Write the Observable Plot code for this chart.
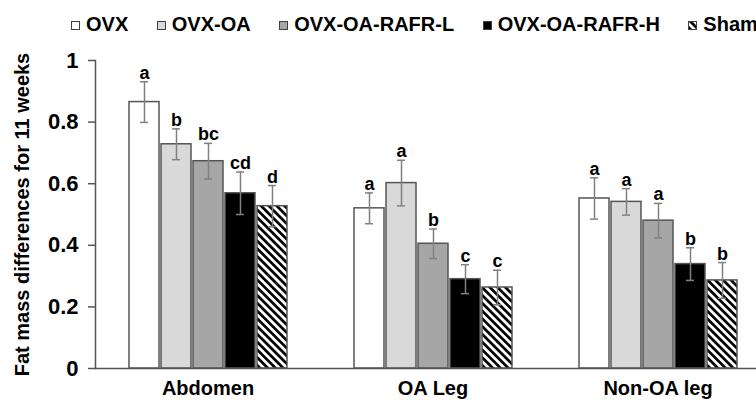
<!DOCTYPE html>
<html><head><meta charset="utf-8">
<script src="https://cdn.jsdelivr.net/npm/d3@7"></script>
<script src="https://cdn.jsdelivr.net/npm/@observablehq/plot@0.6"></script>
<style>
body{margin:0;background:#fff;}
#wrap{width:756px;height:400px;overflow:hidden;position:relative;font-family:"Liberation Sans",Arial,sans-serif;font-weight:bold;background:#fff;}
#legend{height:40px;box-sizing:border-box;padding-top:14px;padding-left:71px;line-height:20px;font-size:20px;white-space:nowrap;display:flex;gap:28.5px;}
#legend .item{display:inline-block;}
#legend .sw{display:inline-block;width:9px;height:9px;box-sizing:border-box;border:1px solid #404040;margin-right:6px;vertical-align:1px;}
#legend svg.sw{border:none;}
#chart{width:775px;}
#chart svg{display:block;max-width:none !important;width:775px !important;height:360px !important;}
#wrap g[aria-label="y-axis label"], #wrap g[aria-label="y-axis label"] text{font-size:20px;}
</style>
</head><body>
<div id="wrap"><div id="legend"></div><div id="chart"></div></div>
<script>
const groups = ["Abdomen", "OA Leg", "Non-OA leg"];
const series = ["OVX", "OVX-OA", "OVX-OA-RAFR-L", "OVX-OA-RAFR-H", "Sham"];
const fills = ["#ffffff", "#d9d9d9", "#a6a6a6", "#000000", "url(#stripes)"];

const abdomenMean = [0.865, 0.728, 0.673, 0.569, 0.527];
const abdomenErr = [0.066, 0.050, 0.058, 0.069, 0.067];
const abdomenLetters = ["a", "b", "bc", "cd", "d"];

const oaLegMean = [0.520, 0.602, 0.405, 0.290, 0.263];
const oaLegErr = [0.050, 0.074, 0.048, 0.047, 0.056];
const oaLegLetters = ["a", "a", "b", "c", "c"];

const nonOaLegMean = [0.552, 0.541, 0.480, 0.339, 0.286];
const nonOaLegErr = [0.067, 0.043, 0.056, 0.053, 0.058];
const nonOaLegLetters = ["a", "a", "a", "b", "b"];

const yTicks = [0, 0.2, 0.4, 0.6, 0.8, 1];
const yTickLabels = ["0", "0.2", "0.4", "0.6", "0.8", "1"];
const yTitle = "Fat mass differences for 11 weeks";

const table = [];
[[abdomenMean, abdomenErr, abdomenLetters],
 [oaLegMean, oaLegErr, oaLegLetters],
 [nonOaLegMean, nonOaLegErr, nonOaLegLetters]].forEach(([m, e, l], gi) =>
  series.forEach((s, si) => table.push({group: groups[gi], series: s, mean: m[si], err: e[si], letter: l[si]})));

function patternDefs(id) {
  const d = d3.create("svg:defs");
  const p = d.append("pattern").attr("id", id).attr("patternUnits", "userSpaceOnUse")
    .attr("width", 5.5).attr("height", 5.5).attr("patternTransform", "rotate(-45)");
  p.append("rect").attr("width", 5.5).attr("height", 5.5).attr("fill", "#fff");
  p.append("rect").attr("width", 2.7).attr("height", 5.5).attr("fill", "#000");
  return d.node();
}

// legend
const legend = d3.select("#legend");
series.forEach((s, i) => {
  const it = legend.append("span").attr("class", "item");
  if (fills[i].startsWith("url")) {
    const sv = it.append("svg").attr("class", "sw").attr("width", 9).attr("height", 9);
    sv.node().appendChild(patternDefs("stripesLegend"));
    sv.append("rect").attr("x", 0.5).attr("y", 0.5).attr("width", 8).attr("height", 8)
      .attr("fill", "url(#stripesLegend)").attr("stroke", "#404040");
  } else {
    it.append("span").attr("class", "sw").style("background", fills[i]);
  }
  it.append("span").text(s);
});

const ebColor = "#808080";
const chart = Plot.plot({
  width: 775, height: 360,
  marginLeft: 95, marginRight: 5, marginTop: 20, marginBottom: 32,
  style: {fontFamily: "Liberation Sans, Arial, sans-serif", fontWeight: "bold", color: "#000", background: "#fff", overflow: "visible", maxWidth: "none"},
  fx: {domain: groups, padding: 0, label: null},
  x: {domain: series, paddingInner: 0.07, paddingOuter: 1.02, axis: null},
  y: {domain: [0, 1]},
  color: {domain: series, range: fills},
  marks: [
    () => patternDefs("stripes"),
    Plot.barY(table, {fx: "group", x: "series", y: "mean", fill: "series", stroke: "#555", strokeWidth: 1.5}),
    Plot.ruleY([0], {stroke: "#555", strokeWidth: 1.5}),
    Plot.frame({anchor: "left", facet: "super", stroke: "#555", strokeWidth: 1.5}),
    Plot.ruleX(table, {fx: "group", x: "series", y1: d => d.mean - d.err, y2: d => d.mean + d.err, stroke: ebColor, strokeWidth: 1.5}),
    Plot.tickY(table, {fx: "group", x: "series", y: d => d.mean + d.err, inset: 11, stroke: ebColor, strokeWidth: 1.5}),
    Plot.tickY(table, {fx: "group", x: "series", y: d => d.mean - d.err, inset: 11, stroke: ebColor, strokeWidth: 1.5}),
    Plot.text(table, {fx: "group", x: "series", y: d => d.mean + d.err, text: "letter", lineAnchor: "bottom", dy: -3, fontSize: 18, fill: "#000"}),
    Plot.axisY({ticks: yTicks, tickFormat: d => yTickLabels[yTicks.indexOf(d)], tickSize: 7, tickPadding: 10, fontSize: 22,
      stroke: "#555", strokeWidth: 1.5,
      label: yTitle, labelAnchor: "center", labelArrow: "none", labelOffset: 81}),
    Plot.axisFx({anchor: "bottom", tickSize: 0, tickPadding: 12, fontSize: 20, label: null})
  ]
});
document.getElementById("chart").appendChild(chart);
</script>
</body></html>
